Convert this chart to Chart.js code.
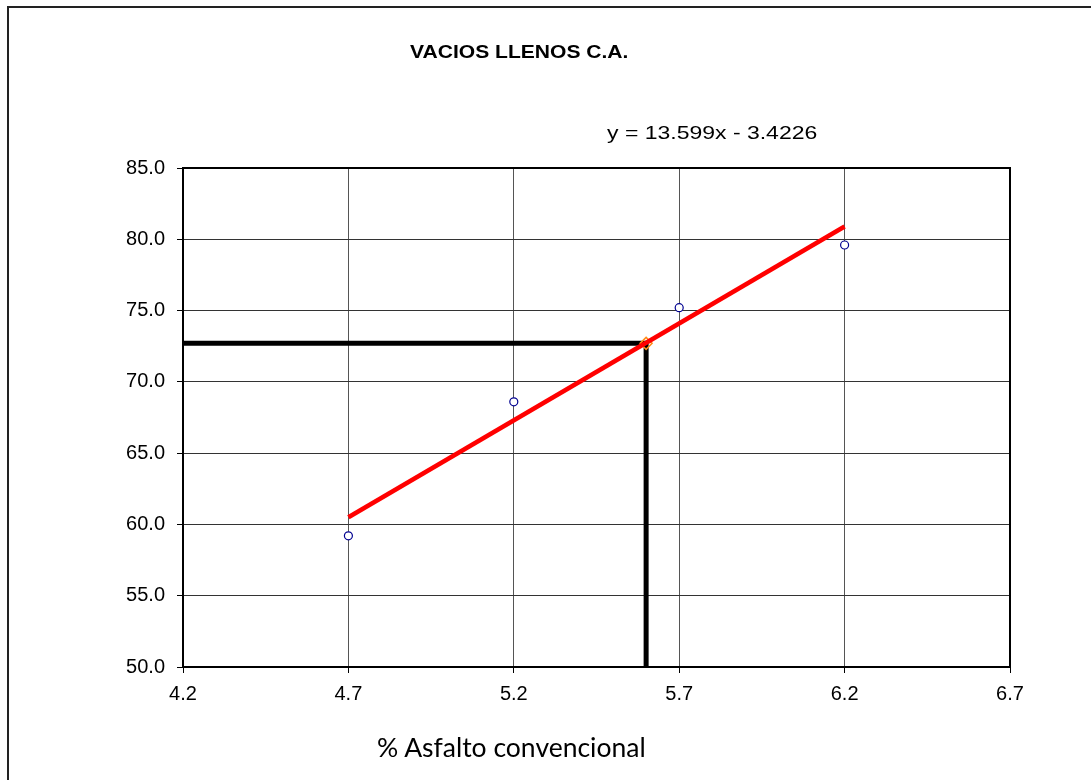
<!DOCTYPE html>
<html>
<head>
<meta charset="utf-8">
<script src="https://cdn.jsdelivr.net/npm/chart.js@4"></script>
<style>
  body { margin: 0; background: #fff; overflow: hidden; }
  #wrap { position: relative; width: 1091px; height: 780px; }
  #frame { position: absolute; left: 7px; top: 6px; right: -10px; bottom: -10px; border-left: 2px solid #222; border-top: 2px solid #222; }
  .txt { position: absolute; white-space: nowrap; color: #000; transform-origin: left top; }
  #title { left: 410px; top: 42px; font: bold 18px "Liberation Sans", Arial, sans-serif; transform: scaleX(1.17); }
  #eq { left: 607px; top: 122px; font: 19px "Liberation Sans", Arial, sans-serif; transform: scaleX(1.21); }
  #xtitle { left: 377px; top: 731px; font: 26.5px Lato, "Open Sans", sans-serif; }
</style>
</head>
<body>
<div id="wrap">
  <div id="frame"></div>
  <canvas id="c"></canvas>
  <div class="txt" id="title">VACIOS LLENOS C.A.</div>
  <div class="txt" id="eq">y = 13.599x - 3.4226</div>
  <div class="txt" id="xtitle">% Asfalto convencional</div>
</div>
<script>
// measured points (% asfalto vs VLL)
const asfalto = [4.7, 5.2, 5.7, 6.2];
const vll = [59.2, 68.6, 75.2, 79.6];

// trend line
const trendX = [4.7, 6.2];
const trendY = [60.5, 80.9];

// design value guide lines
const guideX = [4.2, 5.6, 5.6];
const guideY = [72.7, 72.7, 50.0];
const designX = [5.6];
const designY = [72.7];

const xTicks = [4.2, 4.7, 5.2, 5.7, 6.2, 6.7];
const yTicks = [50, 55, 60, 65, 70, 75, 80, 85];

const pts = (xs, ys) => xs.map((x, i) => ({ x: x, y: ys[i] }));

// frame around plot area
const plotFrame = {
    id: 'plotFrame',
    beforeDatasetsDraw(chart) {
        const a = chart.chartArea, ctx = chart.ctx;
        ctx.save();
        ctx.strokeStyle = '#000';
        ctx.lineWidth = 2;
        ctx.strokeRect(a.left, a.top, a.right - a.left, a.bottom - a.top);
        ctx.restore();
    }
};

const tickFont = { family: '"Liberation Sans", Arial, sans-serif', size: 20 };

new Chart(document.getElementById('c'), {
    type: 'scatter',
    data: {
        datasets: [
            { //blue points on top
                data: pts(asfalto, vll),
                borderColor: '#000090', backgroundColor: '#fff', borderWidth: 1.2,
                pointRadius: 4, showLine: false
            },
            {
                data: pts(trendX, trendY),
                borderColor: '#ff0000', borderWidth: 4.5, showLine: true,
                pointRadius: 0
            },
            {
                data: pts(designX, designY),
                borderColor: '#ff8c1a', backgroundColor: 'rgba(0,0,0,0)', borderWidth: 1.5,
                pointStyle: 'rectRot', pointRadius: 6, showLine: false
            },
            {
                data: pts(guideX, guideY),
                borderColor: '#000', borderWidth: 5, showLine: true,
                pointRadius: 0, borderJoinStyle: 'miter'
            }
        ]
    },
    options: {
        responsive: true,
        maintainAspectRatio: false,
        animation: false,
        layout: { padding: { left: 0, top: 168, right: 81, bottom: 0 } },
        plugins: { legend: { display: false }, tooltip: { enabled: false } },
        scales: {
            x: {
                type: 'linear', min: 4.2, max: 6.7,
                afterBuildTicks: s => { s.ticks = xTicks.map(v => ({ value: v })); },
                afterFit: s => { s.height = 113; },
                grid: { color: '#555', lineWidth: 1, tickLength: 6, tickColor: '#000' },
                border: { color: '#000', width: 2 },
                ticks: { color: '#000', font: tickFont, padding: 9, callback: v => v.toFixed(1), maxRotation: 0 }
            },
            y: {
                type: 'linear', min: 50, max: 85,
                afterBuildTicks: s => { s.ticks = yTicks.map(v => ({ value: v })); },
                afterFit: s => { s.width = 183; },
                grid: { color: '#333', lineWidth: 1, tickLength: 6, tickColor: '#000' },
                border: { color: '#000', width: 2 },
                ticks: { color: '#000', font: tickFont, padding: 12, callback: v => v.toFixed(1) }
            }
        }
    },
    plugins: [plotFrame]
});
</script>
</body>
</html>
